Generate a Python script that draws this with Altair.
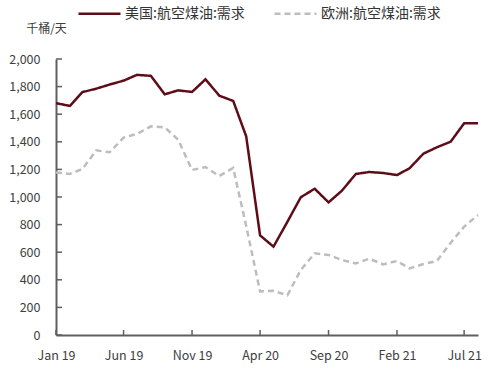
import altair as alt
import pandas as pd

months = pd.date_range("2019-01-01", "2021-08-01", freq="MS").strftime("%Y-%m-%d").tolist()

us_demand = [1680, 1660, 1760, 1785, 1815, 1843, 1885, 1878, 1744, 1773, 1761, 1853,
             1734, 1696, 1440, 722, 640, 820, 998, 1060, 961, 1046, 1167, 1181,
             1174, 1159, 1208, 1314, 1360, 1401, 1534, 1534]
eu_demand = [1178, 1167, 1203, 1338, 1324, 1430, 1457, 1512, 1505, 1415, 1196, 1217,
             1152, 1210, 790, 316, 320, 288, 471, 592, 580, 543, 519, 553,
             512, 536, 483, 514, 536, 669, 785, 870]

series_names = ["美国:航空煤油:需求", "欧洲:航空煤油:需求"]
series_colors = ["#5E0C17", "#BDBDBD"]
y_ticks = [0, 200, 400, 600, 800, 1000, 1200, 1400, 1600, 1800, 2000]
x_ticks = ["2019-01-01", "2019-06-01", "2019-11-01", "2020-04-01",
           "2020-09-01", "2021-02-01", "2021-07-01"]

df = pd.DataFrame({
    "month": months * 2,
    "value": us_demand + eu_demand,
    "series": [series_names[0]] * len(months) + [series_names[1]] * len(months),
})

FONT = "Noto Sans CJK SC"
W, H = 422, 276
x_scale = alt.Scale(type="utc", domain=[months[0], months[-1]])
y_scale = alt.Scale(domain=[0, 2000], nice=False)

x_axis = alt.Axis(
    values=x_ticks, labelExpr="utcFormat(datum.value, '%b %y')", title=None,
    ticks=False, grid=False, domainColor="#5F5F5F", domainWidth=2,
    labelFont=FONT, labelFontSize=12.5, labelColor="#404040", labelPadding=14,
    labelOverlap=False, labelFlush=False, labelBound=False,
)
y_axis = alt.Axis(
    values=y_ticks, labelExpr="format(datum.value, ',')", title="千桶/天", titleAngle=0,
    titleFont=FONT, titleFontSize=12, titleFontWeight="normal", titleColor="#404040",
    titleX=-10, titleY=-31, titleAlign="center", titleBaseline="middle",
    ticks=False, grid=False, domainColor="#5F5F5F", domainWidth=2,
    labelFont=FONT, labelFontSize=12.5, labelColor="#404040", labelPadding=16,
    labelOverlap=False,
)

legend_kw = dict(
    title=None, orient="none", direction="horizontal",
    legendX=21, legendY=-68,
    symbolType="stroke", symbolSize=1764, symbolStrokeWidth=2.5,
    labelFont=FONT, labelFontSize=14, labelColor="#333333",
    labelOffset=3, columnPadding=24,
)

lines = alt.Chart(df).mark_line(strokeWidth=2.5).encode(
    x=alt.X("month:T", scale=x_scale, axis=x_axis),
    y=alt.Y("value:Q", scale=y_scale, axis=y_axis),
    color=alt.Color(
        "series:N",
        scale=alt.Scale(domain=series_names, range=series_colors),
        legend=alt.Legend(**legend_kw),
    ),
    strokeDash=alt.StrokeDash(
        "series:N",
        scale=alt.Scale(domain=series_names, range=[[1, 0], [6, 4]]),
        legend=alt.Legend(**legend_kw),
    ),
)

ytick_df = pd.DataFrame({"value": y_ticks})
ytick_rules = alt.Chart(ytick_df).mark_rule(color="#5F5F5F", strokeWidth=1.5).encode(
    y=alt.Y("value:Q", scale=y_scale, axis=y_axis),
    x=alt.value(0), x2=alt.value(6),
)

xtick_df = pd.DataFrame({"month": x_ticks})
xtick_rules = alt.Chart(xtick_df).mark_rule(color="#5F5F5F", strokeWidth=1.5).encode(
    x=alt.X("month:T", scale=x_scale, axis=x_axis),
    y=alt.value(H - 5), y2=alt.value(H),
)

chart = alt.layer(lines, ytick_rules, xtick_rules).properties(
    width=W, height=H,
    autosize=alt.AutoSizeParams(type="none"),
    padding={"left": 56, "top": 59, "right": 21, "bottom": 34},
    background="white",
).configure_view(stroke=None)

chart.save("out.html", embed_options={"renderer": "svg", "actions": False})
